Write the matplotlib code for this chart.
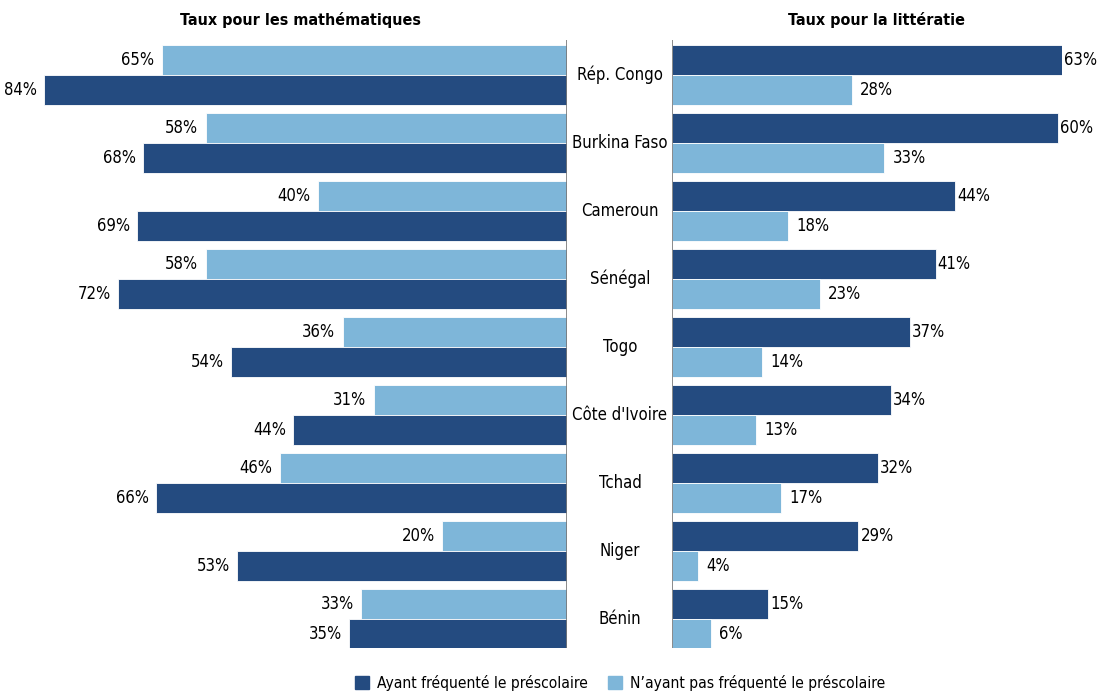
import matplotlib.pyplot as plt
import numpy as np
from matplotlib.patches import Patch
from matplotlib.transforms import blended_transform_factory

plt.rcParams['font.family'] = ['DejaVu Sans']
plt.rcParams['font.stretch'] = 'condensed'

pays = ['Rép. Congo', 'Burkina Faso', 'Cameroun', 'Sénégal', 'Togo',
        "Côte d'Ivoire", 'Tchad', 'Niger', 'Bénin']
# mathématiques
math_avec = [84, 68, 69, 72, 54, 44, 66, 53, 35]
math_sans = [65, 58, 40, 58, 36, 31, 46, 20, 33]
# littératie
litt_avec = [63, 60, 44, 41, 37, 34, 32, 29, 15]
litt_sans = [28, 33, 18, 23, 14, 13, 17, 4, 6]

fonce = '#244b80'
clair = '#7eb6d9'

W, H = 1117, 694
fig = plt.figure(figsize=(W / 100, H / 100), dpi=100)

def zone(x0, x1, y0, y1):
    return fig.add_axes([x0 / W, (H - y1) / H, (x1 - x0) / W, (y1 - y0) / H])

ax1 = zone(0, 567, 40, 648)
ax2 = zone(672, 1062, 40, 648)

y = np.arange(len(pays))
h = 30 / 68
off = 15 / 68

ax1.barh(y - off, math_sans, height=h, color=clair, edgecolor='white', lw=0.6)
ax1.barh(y + off, math_avec, height=h, color=fonce, edgecolor='white', lw=0.6)
ax1.set_xlim(567 / 6.23, 0)

ax2.barh(y - off, litt_avec, height=h, color=fonce, edgecolor='white', lw=0.6)
ax2.barh(y + off, litt_sans, height=h, color=clair, edgecolor='white', lw=0.6)
xmax2 = 390 / 6.43
ax2.set_xlim(0, xmax2)

for ax in (ax1, ax2):
    ax.set_ylim((648 - 75) / 68, (40 - 75) / 68)
    for s in ax.spines.values():
        s.set_visible(False)
    ax.set_xticks([])
    ax.set_yticks([])
ax1.axvline(0, color='#777777', lw=1.2)
ax2.axvline(0, color='#777777', lw=1.2)

fs = 12
for i in range(len(pays)):
    ax1.annotate(f'{math_sans[i]}%', (math_sans[i], i - off), xytext=(-5.5, 0),
                 textcoords='offset points', ha='right', va='center', fontsize=fs)
    ax1.annotate(f'{math_avec[i]}%', (math_avec[i], i + off), xytext=(-5, 0),
                 textcoords='offset points', ha='right', va='center', fontsize=fs)
    ax2.annotate(f'{litt_avec[i]}%', (min(litt_avec[i], xmax2), i - off), xytext=(1.5, 0),
                 textcoords='offset points', ha='left', va='center', fontsize=fs,
                 annotation_clip=False)
    ax2.annotate(f'{litt_sans[i]}%', (litt_sans[i], i + off), xytext=(6, 0),
                 textcoords='offset points', ha='left', va='center', fontsize=fs)

tr = blended_transform_factory(fig.transFigure, ax1.transData)
for i, p in enumerate(pays):
    ax1.text(620 / W, i, p, transform=tr, ha='center', va='center', fontsize=fs)

fig.text(300 / W, 1 - 20 / H, 'Taux pour les mathématiques', ha='center', va='center',
         fontsize=11.5, fontweight='bold')
fig.text(876 / W, 1 - 20 / H, 'Taux pour la littératie', ha='center', va='center',
         fontsize=11.5, fontweight='bold')

poignees = [Patch(color=fonce, label='Ayant fréquenté le préscolaire'),
            Patch(color=clair, label="N’ayant pas fréquenté le préscolaire")]
fig.legend(handles=poignees, loc='center', bbox_to_anchor=(620 / W, 11 / H), ncol=2,
           frameon=False, fontsize=11.2, handlelength=0.9, handleheight=0.9,
           handletextpad=0.5, columnspacing=1.3)

fig.savefig('out.png', dpi=100)
